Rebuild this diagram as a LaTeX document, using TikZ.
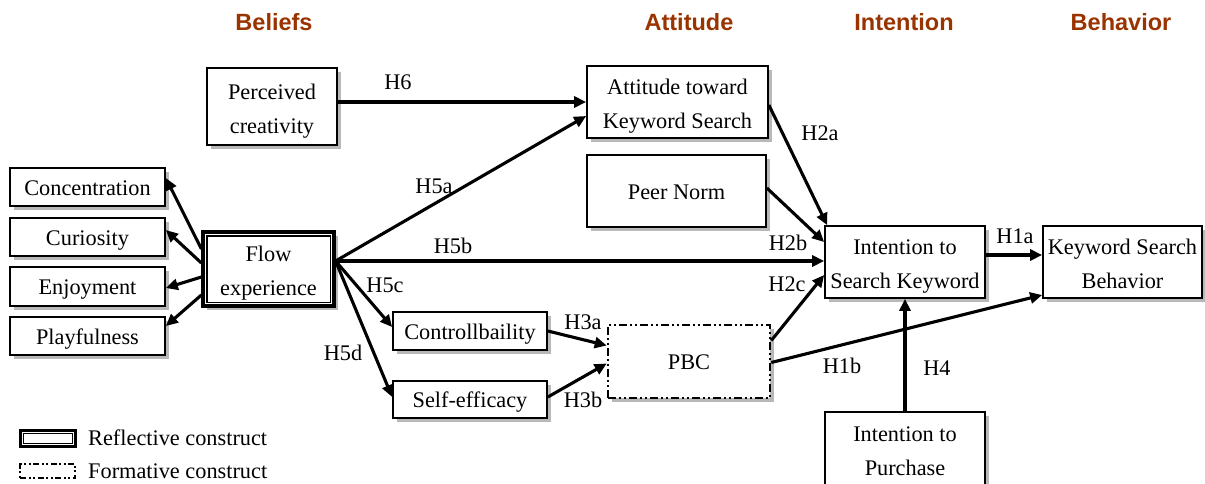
\documentclass[tikz,border=0pt]{standalone}
\usepackage{fontspec}
\setmainfont{Liberation Serif}
\newfontfamily\hdrfont{Liberation Sans}
\usetikzlibrary{arrows.meta,shadows,calc}
\definecolor{hdrc}{RGB}{153,51,0}
\newcommand\fs{\fontsize{22.3}{34}\selectfont}
\tikzset{
  box/.style={draw, line width=1.7pt, fill=white, align=center, inner sep=0pt, font=\fs,
    text height=16pt, text depth=-3pt,
    drop shadow={shadow xshift=3.5pt, shadow yshift=-3.5pt, fill=black!28, opacity=1}},
  two/.style={text height=53pt, text depth=-2pt},
  reflbox/.style={box, line width=3.2pt},
  formbox/.style={box, line width=2.6pt, dash pattern=on 8pt off 3pt on 2pt off 3pt on 2pt off 3pt},
  arr/.style={line width=3.1pt, -{Triangle[length=12pt,width=11pt]}},
  lab/.style={font=\fs, inner sep=0pt},
  hdr/.style={font=\hdrfont\bfseries\fontsize{23.5}{28}\selectfont, text=hdrc, inner sep=0pt},
}
\begin{document}
\begin{tikzpicture}[x=1pt,y=-1pt]
\useasboundingbox (0,0) rectangle (1205,483);
\clip (0,0) rectangle (1205,483);
% headers
\node[hdr] (hB) at (274,22) {Beliefs};
\node[hdr] (hA) at (689,22) {Attitude};
\node[hdr] (hI) at (904,22) {Intention};
\node[hdr] (hBe) at (1121,22) {Behavior};
% boxes
\node[box, two, minimum width=130pt, minimum height=77pt] (perc) at (272,106.5) {Perceived\\creativity};
\node[box, two, minimum width=181pt, minimum height=72pt] (att) at (677.5,102) {Attitude toward\\Keyword Search};
\node[box, minimum width=179pt, minimum height=72pt] (peer) at (676.5,191) {Peer Norm};
\node[box, minimum width=155pt, minimum height=38pt] (conc) at (87.5,187) {Concentration};
\node[box, minimum width=155pt, minimum height=38pt] (cur) at (87.5,237) {Curiosity};
\node[box, minimum width=155pt, minimum height=39pt] (enj) at (87.5,286.5) {Enjoyment};
\node[box, minimum width=155pt, minimum height=38pt] (play) at (87.5,336) {Playfulness};
\node[reflbox, two, minimum width=131pt, minimum height=74pt] (flow) at (268.5,269) {Flow\\experience};
\draw[line width=1.2pt] ([shift={(5.5pt,-5.5pt)}]flow.north west) rectangle ([shift={(-5.5pt,5.5pt)}]flow.south east);
\node[box, minimum width=154pt, minimum height=38pt] (ctrl) at (470,331) {Controllbaility};
\node[box, minimum width=154pt, minimum height=37pt] (self) at (470,399.5) {Self-efficacy};
\node[formbox, minimum width=162pt, minimum height=73pt] (pbc) at (689,361.5) {PBC};
\node[box, two, minimum width=160pt, minimum height=72pt] (ist) at (905,262) {Intention to\\Search Keyword};
\node[box, two, minimum width=159pt, minimum height=72pt] (ksb) at (1122.5,262) {Keyword Search\\Behavior};
\node[box, two, minimum width=160pt, minimum height=74pt] (ip) at (905,449) {Intention to\\Purchase};
% flow indicators
\draw[arr] ([yshift=20pt]flow.west) -- ([yshift=9pt]conc.east);
\draw[arr] ([yshift=6pt]flow.west) -- ([yshift=7pt]cur.east);
\draw[arr] ([yshift=-8pt]flow.west) -- ([yshift=-1.5pt]enj.east);
\draw[arr] ([yshift=-26pt]flow.west) -- ([yshift=10pt]play.east);
% paths
\coordinate (fo) at ([yshift=8pt]flow.east);
\draw[arr] (perc.east |- att.west) -- (att.west);
\draw[arr] (fo) -- ([yshift=-14pt]att.west);
\draw[arr] (fo) -- (fo -| ist.west);
\draw[arr] (fo) -- ([yshift=4pt]ctrl.west);
\draw[arr] (fo) -- ([yshift=2.5pt]self.west);
\draw[arr] (ctrl.east) -- ([yshift=16pt]pbc.west);
\draw[arr] ([yshift=2.5pt]self.east) -- ([yshift=-2pt]pbc.west);
\draw[arr] ([yshift=21pt]pbc.east) -- ([yshift=-13pt]ist.west);
\draw[arr] ([yshift=-1pt]pbc.east) -- ([yshift=-33pt]ksb.west);
\draw[arr] ([yshift=-3pt]att.east) -- ([xshift=3pt]ist.north west);
\draw[arr] ([yshift=3pt]peer.east) -- ([yshift=20pt]ist.west);
\coordinate (io) at ([yshift=7pt]ist.east);
\draw[arr] (io) -- (io -| ksb.west);
\draw[arr] (ip.north) -- (ist.south);
% labels
\node[lab] (l6) at (398,82) {H6};
\node[lab] (l5a) at (434,186) {H5a};
\node[lab] (l5b) at (453,246) {H5b};
\node[lab] (l5c) at (385,285) {H5c};
\node[lab] (l5d) at (343,353) {H5d};
\node[lab] (l3a) at (583,322) {H3a};
\node[lab] (l3b) at (583,400) {H3b};
\node[lab] (l2a) at (820,133) {H2a};
\node[lab] (l2b) at (788,243) {H2b};
\node[lab] (l2c) at (787,284) {H2c};
\node[lab] (l1a) at (1015,236) {H1a};
\node[lab] (l1b) at (842,366) {H1b};
\node[lab] (l4) at (937,368) {H4};
% legend
\node[draw, line width=3pt, minimum width=55pt, minimum height=16pt, inner sep=0pt] (legR) at (47.5,438) {};
\draw[line width=1pt] ([shift={(4.5pt,-4.5pt)}]legR.north west) rectangle ([shift={(-4.5pt,4.5pt)}]legR.south east);
\node[draw, line width=2.2pt, dash pattern=on 6pt off 2.5pt on 2pt off 2.5pt on 2pt off 2.5pt, minimum width=55pt, minimum height=14pt, inner sep=0pt] (legF) at (47.5,471) {};
\node[lab, anchor=west] (legRt) at (88,438) {Reflective construct};
\node[lab, anchor=west] (legFt) at (88,471) {Formative construct};
\end{tikzpicture}
\end{document}
